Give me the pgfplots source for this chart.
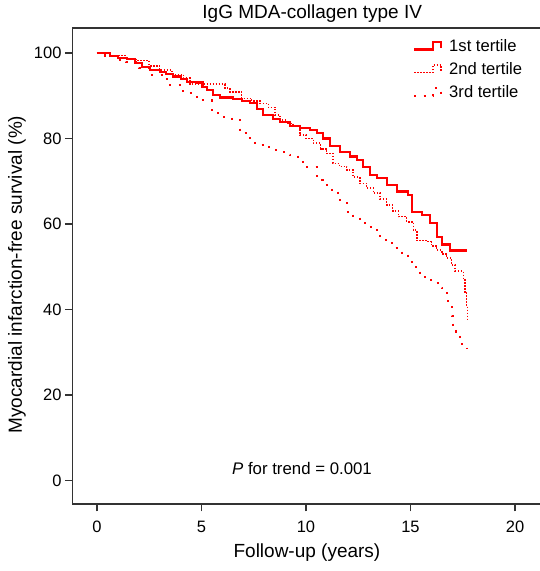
\documentclass[border=0pt]{standalone}
\usepackage{pgfplots}
\pgfplotsset{compat=1.18}
\usepackage{fontspec}
\setmainfont{Liberation Sans}

\newcommand{\fs}[1]{\fontsize{#1}{#1}\selectfont}

\begin{document}
\begin{tikzpicture}
\begin{axis}[
  at={(72.5bp,67bp)}, anchor=south west,
  scale only axis, width=479.5bp, height=476bp,
  xmin=-1.17, xmax=21.77, ymin=-5.5, ymax=105.85,
  xtick={0,5,...,20}, ytick={0,20,...,100},
  tick align=outside, tick pos=left, major tick length=7.5bp,
  axis line style={black!80, line width=1.3bp},
  every tick/.style={black!80, line width=1.3bp},
  /pgf/number format/assume math mode=true,
  ticklabel style={font=\fs{16.5bp}},
  xticklabel style={yshift=-6bp},
  title={IgG MDA-collagen type IV},
  title style={font=\fs{19bp}, at={(axis description cs:0.5,1.0084)}, anchor=base},
  xlabel={Follow-up (years)},
  xlabel style={font=\fs{19bp}, at={(axis description cs:0.489,-0.103)}, anchor=center},
  ylabel={Myocardial infarction-free survival (\%)},
  ylabel style={font=\fs{19bp}, at={(axis description cs:-0.1157,0.482)}, anchor=center},
  legend style={draw=none, fill=none, at={(axis description cs:0.71,0.981)},
    anchor=north west, font=\fs{16.6bp}, row sep=5.5bp, inner sep=0pt},
  legend cell align=left,
  legend image code/.code={\draw[#1] (0bp,-3.5bp) -- (19bp,-3.5bp) -- (19bp,4bp) -- (27bp,4bp) -- (27bp,-2bp);
    \path (32bp,0bp);},
]
% 1st tertile
\addplot[const plot, red, line width=2.1bp] coordinates {
(0,100) (0.62,99.3) (1.0,98.9) (1.42,98.5) (1.8,97.6) (2.14,96.8) (2.54,96.0)
(3.01,95.5) (3.3,95.0) (3.65,94.5) (4.0,93.9) (4.29,93.3) (4.77,93.1) (5.05,92.0)
(5.25,91.3) (5.57,90.2) (5.89,89.6) (6.52,89.2) (6.92,88.8) (7.32,88.2) (7.64,86.8)
(7.96,85.5) (8.44,84.6) (8.76,83.9) (9.23,82.9) (9.71,82.4) (10.19,82.0) (10.51,81.2)
(10.83,80.0) (11.15,78.2) (11.63,76.9) (12.11,75.8) (12.42,75.0) (12.74,73.4)
(13.06,71.5) (13.38,70.7) (13.86,69.1) (14.34,67.6) (14.9,66.8) (15.06,62.9)
(15.54,62.1) (15.93,60.2) (16.25,57.0) (16.49,55.2) (16.89,53.8) (17.72,53.8)
};
\addlegendentry{1st tertile}
% 2nd tertile
\addplot[const plot, red, line width=1.5bp, dash pattern=on 1.5bp off 1.5bp] coordinates {
(0,100) (0.6,99.4) (1.4,98.5) (1.9,98.2) (2.5,97.0) (3.0,96.0) (3.6,95.0) (4.13,94.1)
(4.45,92.7) (6.12,91.8) (6.36,90.9) (6.92,89.4) (7.4,88.8) (7.8,88.2) (8.2,87.3)
(8.52,85.5) (8.76,84.3) (9.1,83.5) (9.39,82.8) (9.71,80.8) (10.0,80.0) (10.35,78.9)
(10.7,77.6) (10.99,76.5) (11.3,74.2) (11.6,73.5) (11.95,72.6) (12.25,71.0) (12.58,69.5)
(12.9,68.4) (13.22,67.2) (13.55,65.8) (13.86,64.4) (14.15,63.0) (14.42,61.7) (14.82,60.5)
(15.14,58.6) (15.3,56.1) (15.78,55.9) (16.0,54.9) (16.25,53.9) (16.5,53.0) (16.73,52.0)
(16.97,50.4) (17.13,49.0) (17.53,46.9) (17.6,43.8) (17.69,40.7) (17.72,37.8)
};
\addlegendentry{2nd tertile}
% 3rd tertile
\addplot[const plot, red, line width=2bp, dash pattern=on 2bp off 7.5bp] coordinates {
(0,100) (0.4,99.4) (0.86,98.4) (1.4,97.8) (2.0,96.4) (2.54,94.9) (3.33,92.5) (4.13,90.6)
(4.77,89.0) (5.49,85.9) (5.89,85.1) (6.44,84.3) (6.84,81.2) (7.16,80.0) (7.56,78.5)
(8.04,77.9) (8.44,77.3) (8.84,76.9) (9.23,76.1) (9.63,74.6) (10.03,73.4) (10.51,70.3)
(10.83,69.1) (11.23,68.0) (11.55,65.6) (11.95,62.9) (12.27,61.9) (12.58,60.3) (12.98,59.4)
(13.38,58.2) (13.54,56.3) (13.94,55.5) (14.26,54.3) (14.58,53.1) (14.9,51.2) (15.22,50.0)
(15.45,48.6) (15.69,46.9) (16.09,46.1) (16.49,45.0) (16.73,43.0) (16.81,40.7) (16.97,38.5)
(17.05,36.0) (17.2,34.8) (17.37,31.9) (17.72,30.9)
};
\addlegendentry{3rd tertile}
\node[font=\fs{16.8bp}] at (axis cs:9.81,2.9) {\textit{P} for trend = 0.001};
\end{axis}
\pgfresetboundingbox
\useasboundingbox (0,0) rectangle (540bp,571bp);
\end{tikzpicture}
\end{document}
